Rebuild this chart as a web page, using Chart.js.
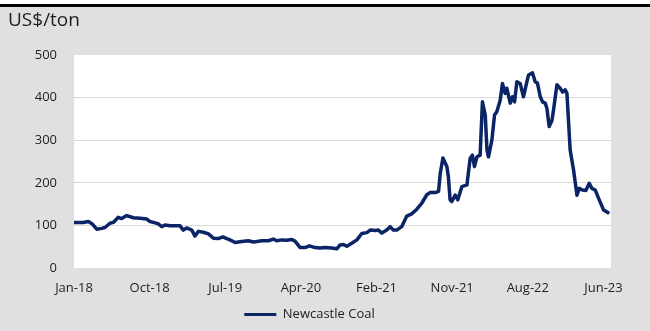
<!DOCTYPE html>
<html>
<head>
<meta charset="utf-8">
<script src="https://cdn.jsdelivr.net/npm/chart.js@4.4.0/dist/chart.umd.min.js"></script>
<style>
  html, body { margin: 0; padding: 0; background: #ffffff; }
  #wrap { width: 650px; height: 331px; }
</style>
</head>
<body>
<div id="wrap"><canvas id="c" width="650" height="331"></canvas></div>
<script>
// Tick labels on the x axis (one every 40 weeks)
const tickLabels = ['Jan-18', 'Oct-18', 'Jul-19', 'Apr-20', 'Feb-21', 'Nov-21', 'Aug-22', 'Jun-23'];
const seriesName = 'Newcastle Coal';
const yTitle = 'US$/ton';

// Week index since the start of Jan-18
const weeks = [
  0, 4.9, 7.6, 9.5, 12.0, 14.7, 16.4, 19.0, 20.8, 23.4, 25.2, 27.9, 31.4, 34.9, 38.5, 40.2,
  42.9, 44.4, 46.4, 48.1, 50.8, 54.3, 56.1, 57.8, 59.6, 62.3, 64.0, 65.8, 68.4, 71.1, 73.7,
  76.3, 78.7, 80.8, 82.5, 85.2, 88.7, 92.2, 94.9, 96.7, 99.3, 102.8, 105.4, 107.2, 109.9,
  112.5, 115.2, 116.9, 119.6, 122.2, 124.5, 127.5, 130.2, 132.8, 136.3, 139.0, 140.7, 142.5,
  144.3, 146.9, 149.6, 152.2, 154.9, 156.6, 159.3, 161.0, 162.8, 165.4, 167.2, 168.9, 170.7,
  173.3, 176.0, 178.6, 181.3, 183.9, 186.6, 188.4, 191.0, 192.8, 193.7, 195.1, 197.2, 198.0,
  198.9, 199.8, 201.6, 203.0, 205.1, 207.8, 209.5, 210.7, 211.8, 213.1, 214.8, 216.0, 217.5,
  218.4, 219.2, 221.0, 222.4, 223.6, 225.4, 226.6, 228.0, 228.9, 230.7, 231.9, 233.0, 234.2,
  236.0, 237.7, 239.5, 240.4, 242.5, 243.9, 245.1, 246.6, 247.8, 249.2, 250.1, 251.3, 252.8,
  253.6, 255.4, 257.1, 258.4, 259.8, 260.7, 262.4, 264.2, 266.0, 267.2, 268.9, 270.7, 272.5,
  273.9, 275.7, 277.4, 280.1, 282.4
];
// Newcastle coal price, US$/ton
const prices = [
  107, 107, 109, 104, 91, 93, 95, 105, 107, 119, 116, 123, 118, 117, 115, 109,
  106, 104, 97, 101, 99, 99, 99, 89, 94, 89, 75, 86, 84, 80, 70,
  69, 73, 69, 66, 60, 62, 64, 61, 62, 64, 64, 68, 64, 66,
  65, 67, 63, 48, 48, 52, 48, 47, 48, 47, 45, 54, 55,
  51, 58, 66, 81, 83, 89, 88, 89, 82, 89, 97, 89, 89,
  97, 122, 127, 138, 152, 172, 177, 177, 180, 222, 258, 238, 214,
  160, 156, 171, 160, 191, 195, 257, 265, 238, 261, 265, 390, 359,
  277, 261, 300, 359, 367, 394, 433, 410, 422, 387, 402, 390, 437,
  433, 402, 437, 453, 458, 437, 434, 402, 390, 387, 375, 332, 347,
  371, 430, 422, 413, 418, 410, 277, 230, 171, 187, 183, 182, 199,
  187, 183, 164, 136, 130
];

const yTicks = [0, 100, 200, 300, 400, 500];
const NAVY = '#0b2466';
const TXT = '#1e1e1e';
const FONT = "'Open Sans', sans-serif";

const backdrop = {
  id: 'backdrop',
  beforeDraw(chart) {
    const { ctx, chartArea: a, width, height } = chart;
    ctx.save();
    ctx.fillStyle = '#ffffff';
    ctx.fillRect(0, 0, width, height);
    ctx.fillStyle = '#e0e0e0';
    ctx.fillRect(0, 6, width, height - 6);
    ctx.fillStyle = '#000000';
    ctx.fillRect(0, 4, width, 3);
    ctx.fillStyle = '#ffffff';
    ctx.fillRect(a.left, a.top, a.right - a.left, a.bottom - a.top);
    ctx.restore();
  }
};

new Chart(document.getElementById('c'), {
  type: 'line',
  data: {
    datasets: [{
      label: seriesName,
      data: weeks.map((w, i) => ({ x: w, y: prices[i] })),
      borderColor: NAVY,
      backgroundColor: NAVY,
      borderWidth: 3.5,
      pointRadius: 0,
      tension: 0,
      borderJoinStyle: 'round',
      borderCapStyle: 'round',
      fill: false
    }]
  },
  options: {
    responsive: false,
    animation: false,
    devicePixelRatio: 1,
    layout: { padding: { top: 7, left: 8, right: 39, bottom: 0 } },
    scales: {
      x: {
        type: 'linear',
        min: 0,
        max: 284,
        grid: { display: false, drawTicks: false },
        border: { display: false },
        ticks: {
          stepSize: 40,
          includeBounds: false,
          autoSkip: false,
          maxRotation: 0,
          padding: 12,
          color: TXT,
          font: { family: FONT, size: 13 },
          callback: (v) => tickLabels[Math.round(v / 40)]
        },
        afterFit(scale) { scale.height = 28; }
      },
      y: {
        min: 0,
        max: 500,
        grid: {
          drawTicks: false,
          lineWidth: 1,
          color: (c) => (c.tick && (c.tick.value === yTicks[0] || c.tick.value === yTicks[yTicks.length - 1])) ? 'rgba(0,0,0,0)' : '#d9d9d9'
        },
        border: { display: false },
        ticks: {
          stepSize: 100,
          padding: 17,
          color: TXT,
          font: { family: FONT, size: 13 }
        },
        afterFit(scale) { scale.width = 66; }
      }
    },
    plugins: {
      title: {
        display: true,
        text: yTitle,
        align: 'start',
        color: TXT,
        font: { family: FONT, size: 19, weight: 'normal' },
        padding: { top: 2, bottom: 23.2 }
      },
      legend: {
        display: true,
        position: 'bottom',
        labels: {
          boxWidth: 32,
          boxHeight: 3,
          padding: 12,
          color: TXT,
          font: { family: FONT, size: 13 },
          generateLabels(chart) {
            return Chart.defaults.plugins.legend.labels.generateLabels(chart).map(it => ({
              ...it, lineWidth: 0, fillStyle: NAVY, strokeStyle: NAVY
            }));
          }
        }
      },
      tooltip: { enabled: false }
    }
  },
  plugins: [backdrop]
});
</script>
</body>
</html>
